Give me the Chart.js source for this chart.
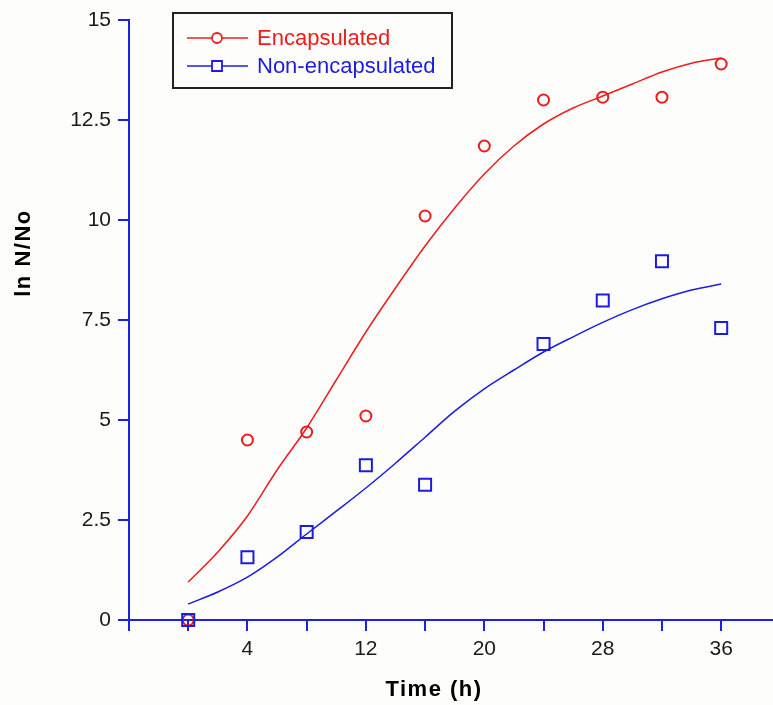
<!DOCTYPE html>
<html>
<head>
<meta charset="utf-8">
<script src="https://cdn.jsdelivr.net/npm/chart.js@4.4.1/dist/chart.umd.min.js"></script>
<style>
  html, body { margin: 0; padding: 0; background: #fdfdfb; overflow: hidden; }
  #wrap { width: 773px; height: 705px; }
  canvas { display: block; }
</style>
</head>
<body>
<div id="wrap"><canvas id="c" width="773" height="705" style="width:773px;height:705px"></canvas></div>
<script>
// ---- data ----
const timeObs = [0, 4, 8, 12, 16, 20, 24, 28, 32, 36];
const encapsulatedObs = [0, 4.5, 4.7, 5.1, 10.1, 11.85, 13.0, 13.07, 13.07, 13.9];
const nonEncTime = [0, 4, 8, 12, 16, 24, 28, 32, 36];
const nonEncapsulatedObs = [0, 1.57, 2.2, 3.87, 3.38, 6.9, 7.99, 8.97, 7.3];

const timeFit = [0, 2, 4, 6, 8, 10, 12, 14, 16, 18, 20, 22, 24, 26, 28, 30, 32, 34, 36];
const encapsulatedFit = [0.95, 1.7, 2.6, 3.75, 4.8, 6.0, 7.2, 8.3, 9.35, 10.3, 11.15, 11.85, 12.4, 12.8, 13.1, 13.4, 13.7, 13.92, 14.05];
const nonEncapsulatedFit = [0.4, 0.7, 1.07, 1.57, 2.15, 2.72, 3.3, 3.92, 4.57, 5.22, 5.78, 6.25, 6.7, 7.08, 7.44, 7.76, 8.03, 8.25, 8.4];

const xTicks = [-4, 0, 4, 8, 12, 16, 20, 24, 28, 32, 36];
const xTickLabels = [4, 12, 20, 28, 36];
const yTicks = [0, 2.5, 5, 7.5, 10, 12.5, 15];

const seriesNames = ['Encapsulated', 'Non-encapsulated'];
const xTitle = 'Time (h)';
const yTitle = 'ln N/No';

// ---- styles ----
const RED = '#ee1c1c';
const BLUE = '#1c1ce0';
const AXIS = '#1e1ee6';
const TEXT = '#1a1a1a';
const FONT = '"Liberation Sans", Arial, sans-serif';

const pts = (xs, ys) => xs.map((x, i) => ({ x: x, y: ys[i] }));

const bgPlugin = {
  id: 'bg',
  beforeDraw(chart) {
    const ctx = chart.ctx;
    ctx.save();
    ctx.fillStyle = '#fdfdfb';
    ctx.fillRect(0, 0, chart.width, chart.height);
    ctx.restore();
  }
};

const decorPlugin = {
  id: 'decor',
  afterDraw(chart) {
    const ctx = chart.ctx;
    ctx.save();
    // axis titles
    ctx.fillStyle = '#000';
    ctx.font = 'bold 22px ' + FONT;
    ctx.letterSpacing = '1.5px';
    ctx.textAlign = 'center';
    ctx.textBaseline = 'middle';
    ctx.fillText(xTitle, 434, 690);
    ctx.save();
    ctx.translate(24, 253);
    ctx.rotate(-Math.PI / 2);
    ctx.fillText(yTitle, 0, 0);
    ctx.restore();
    ctx.letterSpacing = '0px';

    // legend
    const bx = 173, by = 13, bw = 279, bh = 75;
    ctx.strokeStyle = '#222';
    ctx.lineWidth = 2;
    ctx.strokeRect(bx, by, bw, bh);
    const rows = [
      { name: seriesNames[0], color: RED, y: 38, marker: 'circle' },
      { name: seriesNames[1], color: BLUE, y: 66, marker: 'rect' }
    ];
    ctx.font = '22px ' + FONT;
    ctx.textAlign = 'left';
    rows.forEach(r => {
      ctx.strokeStyle = r.color;
      ctx.lineWidth = 1.5;
      ctx.beginPath();
      ctx.moveTo(187, r.y);
      ctx.lineTo(248, r.y);
      ctx.stroke();
      ctx.fillStyle = '#fdfdfb';
      ctx.lineWidth = 1.8;
      ctx.beginPath();
      if (r.marker === 'circle') {
        ctx.arc(217, r.y, 5, 0, Math.PI * 2);
      } else {
        ctx.rect(212, r.y - 5, 10, 10);
      }
      ctx.fill();
      ctx.stroke();
      ctx.fillStyle = r.color;
      ctx.fillText(r.name, 257, r.y + 1);
    });
    ctx.restore();
  }
};

new Chart(document.getElementById('c'), {
  type: 'scatter',
  data: {
    datasets: [
      {
        label: seriesNames[1] + ' obs',
        data: pts(nonEncTime, nonEncapsulatedObs),
        showLine: false,
        pointStyle: 'rect',
        pointRadius: 8.5,
        pointBorderWidth: 2,
        pointBorderColor: BLUE,
        pointBackgroundColor: 'rgba(0,0,0,0)',
        order: 0,
        clip: false
      },
      {
        label: seriesNames[0] + ' obs',
        data: pts(timeObs, encapsulatedObs),
        showLine: false,
        pointStyle: 'circle',
        pointRadius: 5.5,
        pointBorderWidth: 2,
        pointBorderColor: RED,
        pointBackgroundColor: 'rgba(0,0,0,0)',
        order: 1,
        clip: false
      },
      {
        label: seriesNames[0] + ' fit',
        data: pts(timeFit, encapsulatedFit),
        showLine: true,
        borderColor: RED,
        borderWidth: 1.5,
        pointRadius: 0,
        cubicInterpolationMode: 'monotone',
        order: 2,
        clip: false
      },
      {
        label: seriesNames[1] + ' fit',
        data: pts(timeFit, nonEncapsulatedFit),
        showLine: true,
        borderColor: BLUE,
        borderWidth: 1.5,
        pointRadius: 0,
        cubicInterpolationMode: 'monotone',
        order: 3,
        clip: false
      }
    ]
  },
  options: {
    responsive: false,
    animation: false,
    events: [],
    layout: { autoPadding: false, padding: { top: 20, right: 0, left: 0, bottom: 0 } },
    plugins: {
      legend: { display: false },
      tooltip: { enabled: false },
      title: { display: false }
    },
    scales: {
      x: {
        type: 'linear',
        min: -4,
        max: 39.5,
        afterBuildTicks(scale) { scale.ticks = xTicks.map(v => ({ value: v })); },
        afterFit(scale) { scale.height = 85; scale.paddingRight = 0; scale.paddingLeft = 0; },
        border: { display: true, color: AXIS, width: 2 },
        grid: { display: true, drawOnChartArea: false, drawTicks: true, tickLength: 11, color: AXIS, lineWidth: 2 },
        ticks: {
          padding: 6,
          color: TEXT,
          font: { family: FONT, size: 21 },
          maxRotation: 0,
          autoSkip: false,
          callback: (v) => xTickLabels.includes(v) ? String(v) : ''
        }
      },
      y: {
        type: 'linear',
        min: 0,
        max: 15,
        afterBuildTicks(scale) { scale.ticks = yTicks.map(v => ({ value: v })); },
        afterFit(scale) { scale.width = 129; scale.paddingTop = 0; scale.paddingBottom = 0; },
        border: { display: true, color: AXIS, width: 2 },
        grid: { display: true, drawOnChartArea: false, drawTicks: true, tickLength: 11, color: AXIS, lineWidth: 2 },
        ticks: {
          padding: 7,
          color: TEXT,
          font: { family: FONT, size: 21 },
          autoSkip: false,
          callback: (v) => String(v)
        }
      }
    }
  },
  plugins: [bgPlugin, decorPlugin]
});
</script>
</body>
</html>
